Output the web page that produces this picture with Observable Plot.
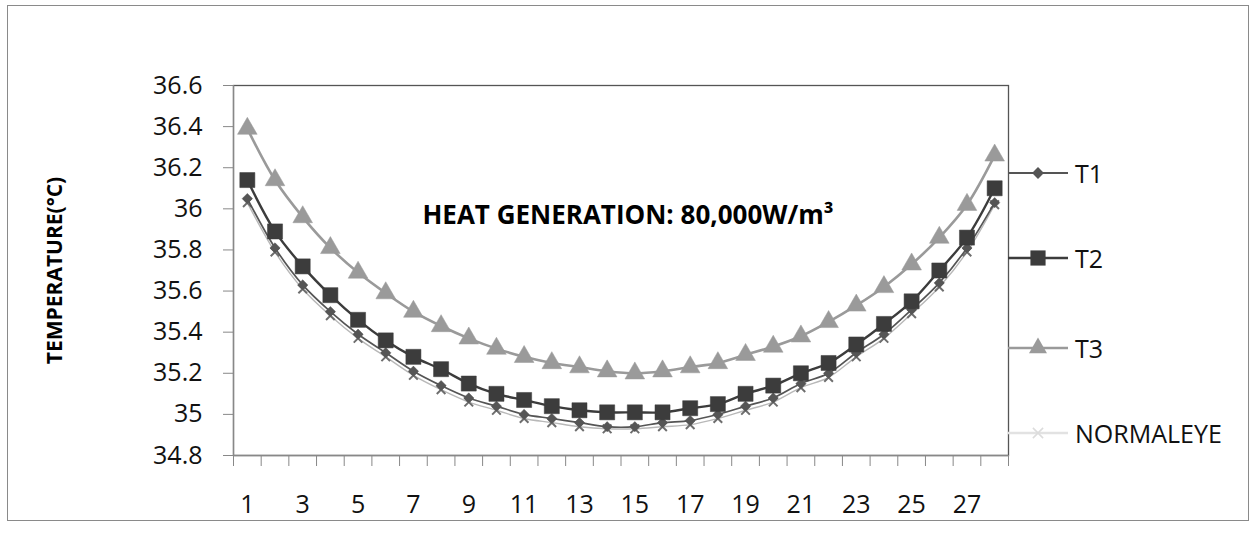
<!DOCTYPE html>
<html><head><meta charset="utf-8">
<script src="https://cdn.jsdelivr.net/npm/d3@7"></script>
<script src="https://cdn.jsdelivr.net/npm/@observablehq/plot@0.6"></script>
<style>
body{margin:0;background:#fff;font-family:"Open Sans",sans-serif;}
#wrap{position:relative;width:1256px;height:534px;overflow:hidden;background:#fff;}
#border{position:absolute;left:7px;top:5px;width:1240px;height:514px;border:1.5px solid #8a8a8a;pointer-events:none;}
#chart{position:absolute;left:0;top:0;}
#legend{position:absolute;left:1008px;top:0;}
.item{position:absolute;left:0;display:flex;align-items:center;white-space:nowrap;height:30px;}
.item span{font-size:25px;color:#111;margin-left:7px;line-height:30px;}
</style></head><body>
<div id="wrap"><div id="chart"></div><div id="border"></div><div id="legend"></div></div>
<script>
// ---- data ----
const positions = [1,2,3,4,5,6,7,8,9,10,11,12,13,14,15,16,17,18,19,20,21,22,23,24,25,26,27,28];
const xTickLabels = [1,3,5,7,9,11,13,15,17,19,21,23,25,27];
const xBoundaries = [0.5,1.5,2.5,3.5,4.5,5.5,6.5,7.5,8.5,9.5,10.5,11.5,12.5,13.5,14.5,15.5,16.5,17.5,18.5,19.5,20.5,21.5,22.5,23.5,24.5,25.5,26.5,27.5,28.5];
const yTicks = [34.8,35,35.2,35.4,35.6,35.8,36,36.2,36.4,36.6];
const seriesNames = ["T1","T2","T3","NORMALEYE"];
const T1 = [36.05,35.81,35.63,35.50,35.39,35.30,35.21,35.14,35.08,35.04,35.00,34.98,34.96,34.94,34.94,34.96,34.97,35.00,35.04,35.08,35.15,35.20,35.30,35.39,35.51,35.64,35.81,36.03];
const T2 = [36.14,35.89,35.72,35.58,35.46,35.36,35.28,35.22,35.15,35.10,35.07,35.04,35.02,35.01,35.01,35.01,35.03,35.05,35.10,35.14,35.20,35.25,35.34,35.44,35.55,35.70,35.86,36.10];
const T3 = [36.39,36.14,35.96,35.81,35.69,35.59,35.50,35.43,35.37,35.32,35.28,35.25,35.23,35.21,35.20,35.21,35.23,35.25,35.29,35.33,35.38,35.45,35.53,35.62,35.73,35.86,36.02,36.26];
const NORMALEYE = [36.03,35.79,35.61,35.48,35.37,35.28,35.19,35.12,35.06,35.02,34.98,34.96,34.94,34.93,34.93,34.94,34.95,34.98,35.02,35.06,35.13,35.18,35.28,35.37,35.49,35.62,35.79,36.02];
const titleText = "HEAT GENERATION: 80,000W/m³";
const yLabel = "TEMPERATURE(°C)";

const rows = (name, vals) => positions.map((p, i) => ({pos: p, value: vals[i], series: name}));
const dT1 = rows("T1", T1), dT2 = rows("T2", T2), dT3 = rows("T3", T3), dN = rows("NORMALEYE", NORMALEYE);

const styles = {
  T1: {stroke: "#555555", width: 1.7},
  T2: {stroke: "#3c3c3c", width: 2.4},
  T3: {stroke: "#9a9a9a", width: 2.6},
  NORMALEYE: {stroke: "#b8b8b8", width: 1.4}
};

const plot = Plot.plot({
  width: 1256, height: 534,
  marginLeft: 233, marginRight: 248, marginTop: 85, marginBottom: 79,
  style: {fontFamily: '"Open Sans", sans-serif', fontSize: "25px", color: "#111", background: "transparent"},
  x: {domain: [0.5, 28.5]},
  y: {domain: [34.8, 36.6]},
  marks: [
    Plot.frame({stroke: "#555", strokeWidth: 1.3}),
    Plot.axisY({ticks: yTicks, tickSize: 10, tickPadding: 21, tickFormat: d => String(d), stroke: "#888", label: yLabel, labelAnchor: "center", labelOffset: 186}),
    Plot.axisX({ticks: xBoundaries, tickSize: 11, tickFormat: () => "", label: null, stroke: "#888"}),
    Plot.axisX({ticks: xTickLabels, tickSize: 0, tickPadding: 40, label: null, tickFormat: d => String(d)}),
    Plot.ruleX([0.5], {stroke: "#888", strokeWidth: 1.3}),
    Plot.ruleY([34.8], {stroke: "#888", strokeWidth: 1.3}),
    Plot.line(dN, {x: "pos", y: "value", stroke: styles.NORMALEYE.stroke, strokeWidth: styles.NORMALEYE.width, curve: "catmull-rom"}),
    Plot.dot(dN, {x: "pos", y: "value", symbol: "times", r: 4, stroke: "#6e6e6e", strokeWidth: 2}),
    Plot.line(dT1, {x: "pos", y: "value", stroke: styles.T1.stroke, strokeWidth: styles.T1.width, curve: "catmull-rom"}),
    Plot.dot(dT1, {x: "pos", y: "value", symbol: "diamond2", r: 4.6, fill: "#555555", stroke: "#555555", strokeWidth: 0.5}),
    Plot.line(dT2, {x: "pos", y: "value", stroke: styles.T2.stroke, strokeWidth: styles.T2.width, curve: "catmull-rom"}),
    Plot.dot(dT2, {x: "pos", y: "value", symbol: "square", r: 8.5, fill: "#3c3c3c", stroke: "#3c3c3c", strokeWidth: 0.5}),
    Plot.line(dT3, {x: "pos", y: "value", stroke: styles.T3.stroke, strokeWidth: styles.T3.width, curve: "catmull-rom"}),
    Plot.dot(dT3, {x: "pos", y: "value", symbol: "triangle", r: 7.3, fill: "#9a9a9a", stroke: "#9a9a9a", strokeWidth: 0.5}),
    Plot.text([titleText], {frameAnchor: "top", dy: 120, dx: 7, fontWeight: "bold", fontSize: 26, fill: "#000", text: d => d})
  ]
});
document.getElementById("chart").appendChild(plot);

// style the y-axis title
d3.select(plot).selectAll("text").each(function () {
  const t = this.textContent;
  if (t.indexOf("TEMPERATURE") >= 0) {
    d3.select(this).text(yLabel).attr("font-weight", "bold").attr("font-size", 21).attr("fill", "#000");
  }
});

// legend (HTML overlay)
const legendRows = [
  {name: "T1", top: 173, sym: "diamond"},
  {name: "T2", top: 258, sym: "square"},
  {name: "T3", top: 348, sym: "triangle"},
  {name: "NORMALEYE", top: 433, sym: "x"}
];
const legend = d3.select("#legend");
legendRows.forEach(r => {
  const s = styles[r.name];
  const item = legend.append("div").attr("class", "item").style("top", (r.top - 15) + "px");
  const svg = item.append("svg").attr("width", 60).attr("height", 30);
  const lineColor = r.name === "NORMALEYE" ? "#e2e2e2" : s.stroke;
  svg.append("line").attr("x1", 0).attr("x2", 60).attr("y1", 15).attr("y2", 15).attr("stroke", lineColor).attr("stroke-width", r.name === "T1" ? 2 : 2.4);
  const g = svg.append("g").attr("transform", "translate(30,15)");
  if (r.sym === "diamond") g.append("path").attr("d", d3.symbol(d3.symbolDiamond2, 90)()).attr("fill", s.stroke);
  if (r.sym === "square") g.append("path").attr("d", d3.symbol(d3.symbolSquare, 230)()).attr("fill", s.stroke);
  if (r.sym === "triangle") g.append("path").attr("d", d3.symbol(d3.symbolTriangle, 140)()).attr("fill", s.stroke);
  if (r.sym === "x") g.append("path").attr("d", d3.symbol(d3.symbolTimes, 70)()).attr("stroke", "#dcdcdc").attr("fill", "none").attr("stroke-width", 1.5);
  item.append("span").text(r.name);
});
</script>
</body></html>
